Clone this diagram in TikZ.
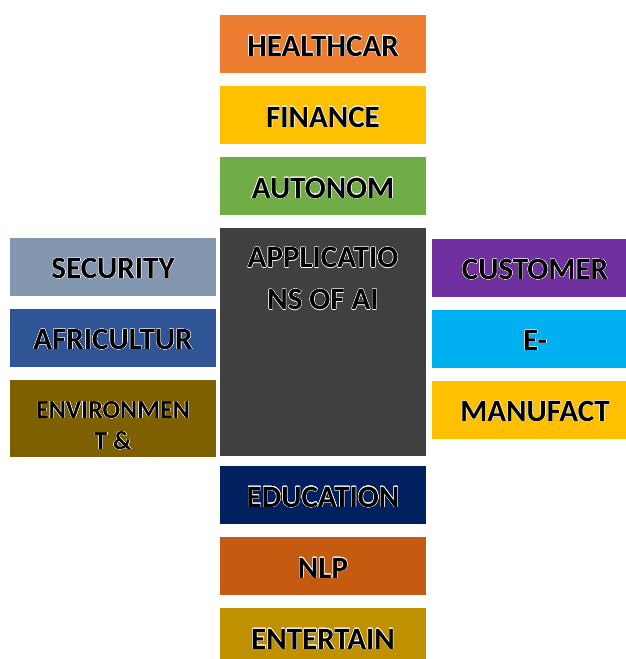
\documentclass[tikz,border=0pt]{standalone}
\usepackage{fontspec}
\setmainfont{Carlito}
\usepackage{contour}
\contourlength{0.35pt}
\usetikzlibrary{positioning}
\definecolor{orangeH}{HTML}{ED7D31}
\definecolor{goldF}{HTML}{FFC000}
\definecolor{greenA}{HTML}{70AD47}
\definecolor{darkC}{HTML}{404040}
\definecolor{greyS}{HTML}{8497B0}
\definecolor{blueAg}{HTML}{2F5597}
\definecolor{brownEnv}{HTML}{7F6000}
\definecolor{purpleCu}{HTML}{7030A0}
\definecolor{cyanEc}{HTML}{00B0F0}
\definecolor{navyEd}{HTML}{002060}
\definecolor{rustN}{HTML}{C55A11}
\definecolor{ochreT}{HTML}{BF9000}
\newcommand{\glowtxt}[1]{\contour{white}{#1}}
\tikzset{node distance=71pt, x=1pt, y=1pt,
  tile/.style={minimum width=206pt, minimum height=58pt, inner sep=0pt,
    font=\fontsize{31}{36}\selectfont\bfseries, text=black,
    text height=24pt, text depth=0pt},
  tiletext/.style={align=center, text=black, font=\fontsize{#1}{42}\selectfont\bfseries}}

\begin{document}
\begin{tikzpicture}
          \useasboundingbox (0,0) rectangle (625,-659);
          % top column
          \node (H) [tile, fill=orangeH] at (323,-44) {\glowtxt{HEALTHCAR}};
          \node (F) [tile, fill=goldF, below of=H] {\glowtxt{FINANCE}};
          \node (A) [tile, fill=greenA, below of=F] {\glowtxt{AUTONOM}};
          % centre
          \node (C) [tile, fill=darkC, minimum height=228pt] at (323,-342) {};
          \node (Ct) [tiletext=31, below=16pt of C.north] {\glowtxt{APPLICATIO}\\\glowtxt{NS OF AI}};
          % left column
          \node (S) [tile, fill=greyS] at (113,-266.5) {\glowtxt{SECURITY}};
          \node (Ag) [tile, fill=blueAg, below of=S] {\glowtxt{AFRICULTUR}};
          \node (Env) [tile, fill=brownEnv, minimum height=77pt] at (113,-418.5) {};
          \node (Envt) [tiletext=26, below=18pt of Env.north] {\glowtxt{ENVIRONMEN}\\[-11pt]\glowtxt{T \&}};
          % right column
          \node (Cu) [tile, fill=purpleCu] at (535,-267.5) {\glowtxt{CUSTOMER}};
          \node (Ec) [tile, fill=cyanEc, below of=Cu] {\glowtxt{E-}};
          \node (M) [tile, fill=goldF, below of=Ec] {\glowtxt{MANUFACT}};
          % bottom column
          \node (Ed) [tile, fill=navyEd] at (323,-495) {\glowtxt{EDUCATION}};
          \node (N) [tile, fill=rustN, below of=Ed] {\glowtxt{NLP}};
          \node (T) [tile, fill=ochreT, below of=N] {\glowtxt{ENTERTAIN}};
        \end{tikzpicture}
\end{document}
